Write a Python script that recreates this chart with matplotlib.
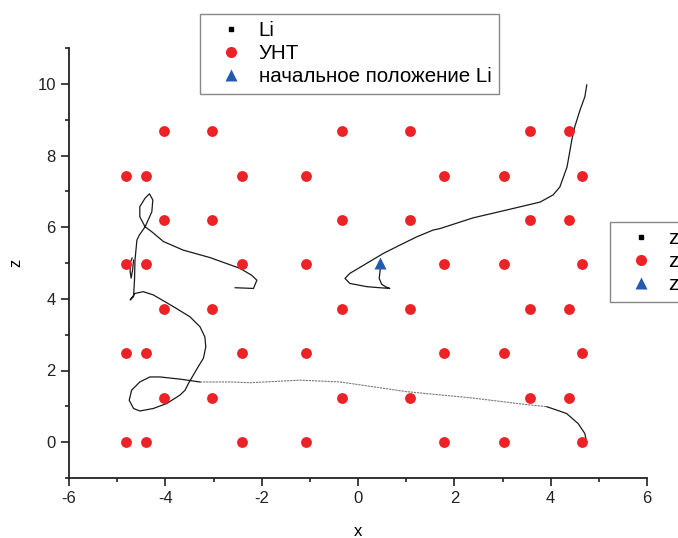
import matplotlib
matplotlib.use('Agg')
import matplotlib.pyplot as plt
from matplotlib.lines import Line2D
from matplotlib.ticker import MultipleLocator

plt.rcParams['font.family'] = ['Liberation Sans', 'DejaVu Sans']
plt.rcParams['axes.unicode_minus'] = False

# CNT atom positions: two alternating row types
cnt_x_odd = [-4.03, -3.03, -0.33, 1.08, 3.57, 4.38]
cnt_x_even = [-4.82, -4.40, -2.41, -1.08, 1.79, 3.03, 4.65]
cnt_z_rows = [0.0, 1.24, 2.48, 3.72, 4.96, 6.20, 7.44, 8.68]

# starting position of Li
li_start_x = [0.46]
li_start_z = [5.0]

# Li trajectory, part 1: from the start, hook, then up to the top right
traj1_x = [0.46, 0.46, 0.44, 0.49, 0.58, 0.66, 0.45, 0.18, -0.17, -0.27, -0.17,
           0.18, 0.53, 0.87, 1.22, 1.56, 1.70, 2.39, 3.09, 3.78, 4.05, 4.19,
           4.34, 4.44, 4.50, 4.61, 4.71, 4.75]
traj1_z = [4.94, 4.80, 4.57, 4.41, 4.33, 4.29, 4.31, 4.34, 4.43, 4.57, 4.71,
           4.99, 5.27, 5.50, 5.73, 5.92, 5.96, 6.26, 6.48, 6.70, 6.90, 7.12,
           7.68, 8.44, 8.80, 9.27, 9.64, 9.97]

# part 2: left loops down to the bottom-left loop
traj2_x = [-2.55, -2.17, -2.10, -2.21, -2.45, -3.07, -3.63, -4.04, -4.28, -4.42,
           -4.53, -4.53, -4.42, -4.33, -4.26, -4.28, -4.42, -4.54, -4.59, -4.61,
           -4.63, -4.64, -4.66, -4.73, -4.63, -4.46, -4.25, -3.83, -3.49, -3.28,
           -3.18, -3.16, -3.21, -3.32, -3.42, -3.52, -3.59, -3.70, -3.97, -4.25,
           -4.53, -4.66, -4.75, -4.70, -4.53, -4.32, -4.11, -3.70, -3.28]
traj2_z = [4.31, 4.29, 4.52, 4.66, 4.85, 5.15, 5.36, 5.60, 5.87, 6.01,
           6.29, 6.57, 6.81, 6.93, 6.76, 6.43, 6.01, 5.78, 5.64, 5.36,
           5.08, 4.53, 4.06, 3.97, 4.15, 4.20, 4.11, 3.78, 3.50, 3.22,
           2.94, 2.66, 2.34, 2.10, 1.87, 1.64, 1.45, 1.31, 1.08, 0.94,
           0.87, 0.94, 1.17, 1.45, 1.68, 1.82, 1.82, 1.76, 1.68]

# part 3: fast run along z ~ 1.7 to the bottom right
traj3_x = [-3.28, -2.66, -2.24, -1.20, -0.37, 1.01, 2.39, 3.43, 3.92]
traj3_z = [1.68, 1.68, 1.66, 1.73, 1.68, 1.41, 1.23, 1.06, 0.99]
traj4_x = [3.92, 4.33, 4.57, 4.71, 4.73]
traj4_z = [0.99, 0.80, 0.52, 0.24, 0.10]

# small squiggle near the left edge
traj5_x = [-4.69, -4.73, -4.73, -4.71, -4.68, -4.66]
traj5_z = [5.14, 5.00, 4.75, 4.58, 4.80, 5.08]

red = '#ec2227'
blue = '#2659b0'

fig = plt.figure(figsize=(6.78, 5.38), dpi=100)
ax = fig.add_axes([69 / 678, 60 / 538, 578 / 678, 430 / 538])

for x, z in [(traj1_x, traj1_z), (traj2_x, traj2_z), (traj4_x, traj4_z),
             (traj5_x, traj5_z)]:
    ax.plot(x, z, color='#1a1a1a', lw=0.9, zorder=2)
ax.plot(traj3_x, traj3_z, color='#777777', lw=0.8, ls=(0, (2, 0.8)), zorder=2)

cx, cz = [], []
for i, z in enumerate(cnt_z_rows):
    row = cnt_x_even if i % 2 == 0 else cnt_x_odd
    cx += row
    cz += [z] * len(row)
ax.plot(cx, cz, 'o', color=red, ms=7.8, mec='none', zorder=3)
ax.plot(li_start_x, li_start_z, '^', color=blue, ms=8.5, mec='none', zorder=4)

ax.set_xlim(-6, 6)
ax.set_ylim(-1, 11)
ax.xaxis.set_major_locator(MultipleLocator(2))
ax.xaxis.set_minor_locator(MultipleLocator(1))
ax.yaxis.set_major_locator(MultipleLocator(2))
ax.yaxis.set_minor_locator(MultipleLocator(1))
ax.spines['top'].set_visible(False)
ax.spines['right'].set_visible(False)
for s in ['left', 'bottom']:
    ax.spines[s].set_linewidth(1.3)
    ax.spines[s].set_color('#222222')
ax.tick_params(which='major', length=5.5, width=1.2, labelsize=12,
               colors='#222222', pad=4)
ax.tick_params(which='minor', length=3, width=1.2, colors='#222222')
ax.set_xlabel('x', fontsize=12, labelpad=13)
ax.set_ylabel('z', fontsize=12, labelpad=10)

handles = [
    Line2D([], [], ls='none', marker='s', ms=2.5, color='black'),
    Line2D([], [], ls='none', marker='o', ms=8, color=red, mec='none'),
    Line2D([], [], ls='none', marker='^', ms=8.5, color=blue, mec='none'),
]
leg_kw = dict(loc='upper left', borderaxespad=0, fontsize=14.8, fancybox=False,
              framealpha=1, edgecolor='#888888', handletextpad=0.2,
              labelspacing=0.2, borderpad=0.35, handlelength=2.3)
leg1 = fig.legend(handles, ['Li', 'УНТ', 'начальное положение Li'],
                  bbox_to_anchor=(200 / 678, 1 - 14 / 538), **leg_kw)
leg1.get_frame().set_linewidth(1.0)
leg2 = fig.legend(handles, ['z', 'z', 'z'],
                  bbox_to_anchor=(610 / 678, 1 - 222 / 538), **leg_kw)
leg2.get_frame().set_linewidth(1.0)

fig.savefig('out.png', dpi=100)
